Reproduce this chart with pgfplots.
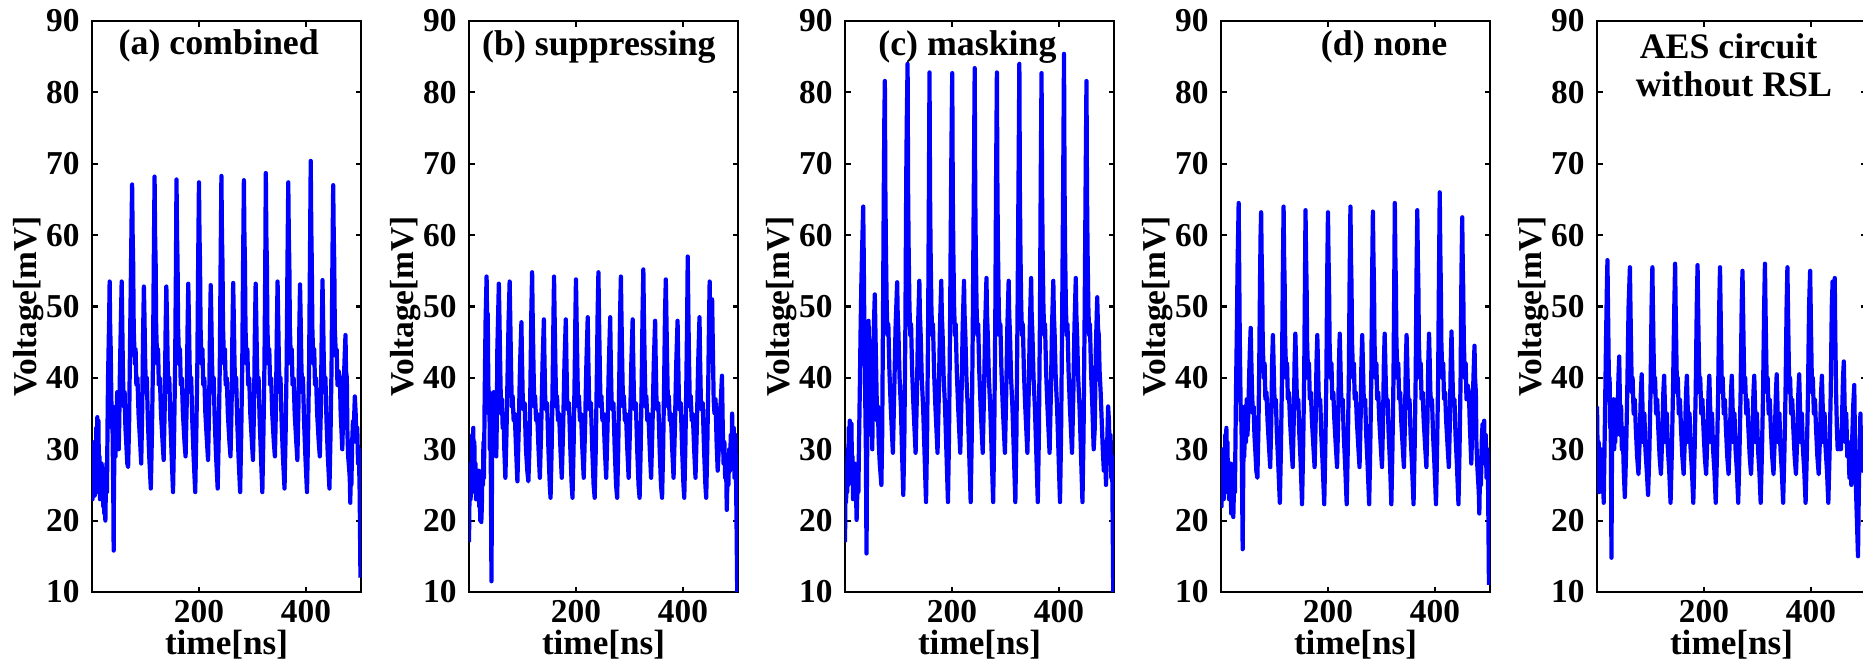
\documentclass[border=0pt]{standalone}
\usepackage{fontspec}
\setmainfont{Liberation Serif}
\usepackage{pgfplots}
\pgfplotsset{compat=1.18}

\pgfplotsset{
  panel/.style={
    scale only axis, width=26.9mm, height=57.1mm,
    xmin=0, xmax=503, ymin=10, ymax=90,
    xtick={200,400}, ytick={10,20,...,90},
    major tick length=0.55mm,
    tick style={black, line width=0.6pt},
    axis line style={black, line width=0.75pt},
    every tick label/.append style={font=\fontsize{9.5}{10}\selectfont\bfseries},
    xticklabel style={yshift=0.4mm},
    /pgf/number format/assume math mode=true,
    xlabel={time[ns]}, ylabel={Voltage[mV]},
    every axis x label/.append style={font=\fontsize{10}{10}\selectfont\bfseries, inner sep=0pt, yshift=0.5mm},
    every axis y label/.append style={font=\fontsize{9.5}{10}\selectfont\bfseries, inner sep=0pt, yshift=-1.0mm},
  },
  wave/.style={blue, line width=1.2pt, line join=round, mark=none},
}
\newcommand{\ttl}{\fontsize{10.2}{11}\selectfont\bfseries}

\begin{document}
\begin{tikzpicture}

% (a) combined
\begin{axis}[panel, at={(0mm,0mm)}]
\addplot[wave] coordinates {
(0,27) (1,23) (2,29) (3,24) (4,31) (5,23.5) (6,28) (7,25) (8,33) (9,24) (10,34.5) (11,30) (12,34) (13,26) (14,29) (15,23) (16,27) (17,24) (18,28) (19,23.5) (20,26) (21,22) (22,27) (23,21) (24,24) (25,20) (26,25) (27,28) (28,24) (29,33) (30,40) (31,44) (32,48) (33,53.5) (34,47) (35,44) (36,38) (37,33) (38,36) (39,29) (40,22) (40.5,15.8) (41,24) (42,30) (43,35) (44,29) (45,36) (46,31) (47,38) (48,32) (49,36) (50,30) (51,34) (52,40) (54,48) (55.5,53.5) (56.5,48) (58,40) (59.5,36) (61,38) (62.5,33) (64,31) (66,28) (67.5,27.5) (69.5,34) (71,44) (73,56) (74,62)
(75,67.1) (76,60) (77,56) (78,47) (80,42) (81.5,44) (83,39) (85,40) (87,35) (90,31) (92,28) (94,36) (95.5,46) (97,52.8) (98,49) (99.5,42) (101,38) (102.5,40) (104.5,34) (107,29) (110,24.5) (112,32) (114,42) (115.5,56)
(117,68.2) (118,60) (119,56) (120,47) (122,42) (123.5,44) (125,39) (127,40) (129,35) (132,31) (134,28.5) (136,36) (137.5,46) (139,52.8) (140,49) (141.5,42) (143,38) (144.5,40) (146.5,34) (149,29) (151.5,24) (153.5,32) (155.5,42) (157,56)
(158,67.8) (159,60) (160,56) (161,47) (163,42) (164.5,44) (166,39) (168,40) (170,35) (173,31) (175,29) (177,36) (178.5,46) (180,53.2) (181,49) (182.5,42) (184,38) (185.5,40) (187.5,34) (190,29) (193,24) (195,32) (197,42) (198.5,56)
(200,67.4) (201,60) (202,56) (203,47) (205,42) (206.5,44) (208,39) (210,40) (212,35) (215,31) (217,28.5) (219,36) (220.5,46) (222,53) (223,49) (224.5,42) (226,38) (227.5,40) (229.5,34) (232,29) (235,24.5) (237,32) (239,42) (240.5,56)
(242,68.3) (243,60) (244,56) (245,47) (247,42) (248.5,44) (250,39) (252,40) (254,35) (257,31) (259,29) (261,36) (262.5,46) (264,53.3) (265,49) (266.5,42) (268,38) (269.5,40) (271.5,34) (274,29) (277,24) (279,32) (281,42) (282.5,56)
(284,67.7) (285,60) (286,56) (287,47) (289,42) (290.5,44) (292,39) (294,40) (296,35) (299,31) (301,28.5) (303,36) (304.5,46) (306,53.2) (307,49) (308.5,42) (310,38) (311.5,40) (313.5,34) (316,29) (318.5,24) (320.5,32) (322.5,42) (324,56)
(325,68.7) (326,60) (327,56) (328,47) (330,42) (331.5,44) (333,39) (335,40) (337,35) (340,31) (342,29) (344,36) (345.5,46) (347,53.5) (348,49) (349.5,42) (351,38) (352.5,40) (354.5,34) (357,29) (360,24.5) (362,32) (364,42) (365.5,56)
(367,67.4) (368,60) (369,56) (370,47) (372,42) (373.5,44) (375,39) (377,40) (379,35) (382,31) (384,28.5) (386,36) (387.5,46) (389,53.1) (390,49) (391.5,42) (393,38) (394.5,40) (396.5,34) (399,29) (402,24) (404,32) (406,42) (407.5,56)
(409,70.4) (410,61) (411,56) (412,47) (414,42) (415.5,44) (417,39) (419,40) (421,35) (424,31) (426,29) (428,36) (429.5,46) (431,53.7) (432,49) (433.5,42) (435,38) (436.5,40) (438.5,34) (441,29) (444,24.5) (446,32) (448,42) (449.5,56)
(451,67) (452,60) (453,56) (454,47) (456,43) (457.5,44) (459,39) (461,41) (463.5,40) (465,35) (467,31.8) (468,30) (470,36) (472,42) (474,46) (475,41) (476.5,40) (477.5,32.6) (479,29) (480.5,27.6) (482,26) (483,22.5) (484,29) (485,25) (486.5,31) (488,34) (489.5,33) (491.5,37.4) (493,35) (494.5,31) (496,33) (497.5,28) (499,30) (500.5,24) (502,12)
};
\node[anchor=base, font=\ttl] at (axis cs:237,85.3) {(a) combined};
\end{axis}

% (b) suppressing
\begin{axis}[panel, at={(37.7mm,0mm)}]
\addplot[wave] coordinates {
(0,17) (1,24) (2,26) (3,23) (4,28) (5,24) (6,32) (7,27) (8,33) (9,25) (10,31) (11,24) (12,28) (13,23) (14,27) (15,24) (16,26) (17,23.5) (18,27) (19,22) (20,25) (21,20) (22,24) (23,19.8) (24,22) (25,27) (26,25) (27,31) (28,26) (29,35) (30,42) (31,48) (32.9,54.2) (34,47) (35,49) (36,40) (37,35) (38,38) (39,30) (40,36) (41,25) (42,11.5) (43,27) (44,36) (45,30) (46,38) (47,33) (48,37) (49,31) (50,35) (51,29) (52,34) (53,44) (55.8,53.2) (57,48) (58.5,41) (60,35) (61.5,37) (63,33) (64.5,35) (66,30) (68,26) (70,32) (72,40) (74,48)
(76,53.5) (77,49) (78.5,42) (80,36) (81.5,37.5) (83.5,34) (85.5,35) (88,30) (90.5,25.5) (93,33) (95.5,42) (98,47.8) (99,43) (100.5,37) (102,35.5) (104,36.5) (106.5,30) (109,27) (111,25.5) (113,30) (115,40) (116.5,49)
(118,54.8) (119,49) (120.5,42) (122,36) (123.5,37.5) (125.5,34) (127.5,35) (130,30) (132.5,26) (135,33) (137.5,42) (140,48.2) (141,43) (142.5,37) (144,35.5) (146,36.5) (148.5,30) (151,25) (152.5,23.2) (154.5,30) (156.5,40) (158,49)
(159,54.2) (160,49) (161.5,42) (163,36) (164.5,37.5) (166.5,34) (168.5,35) (171,30) (173.5,26) (176,33) (178.5,42) (181,48.2) (182,43) (183.5,37) (185,35.5) (187,36.5) (189.5,30) (192,25) (193.5,23.2) (195.5,30) (197.5,40) (199,49)
(200,53.8) (201,49) (202.5,42) (204,36) (205.5,37.5) (207.5,34) (209.5,35) (212,30) (214.5,26) (217,33) (219.5,42) (222,48.5) (223,43) (224.5,37) (226,35.5) (228,36.5) (230.5,30) (233,25) (235,23.2) (237,30) (239,40) (240.5,49)
(242,54.8) (243,49) (244.5,42) (246,36) (247.5,37.5) (249.5,34) (251.5,35) (254,30) (256.5,26) (259,33) (261.5,42) (264,48.5) (265,43) (266.5,37) (268,35.5) (270,36.5) (272.5,30) (275,25) (277,23.2) (279,30) (281,40) (282.5,49)
(284,54.2) (285,49) (286.5,42) (288,36) (289.5,37.5) (291.5,34) (293.5,35) (296,30) (298.5,26) (301,33) (303.5,42) (306,48.2) (307,43) (308.5,37) (310,35.5) (312,36.5) (314.5,30) (317,25) (319,23.2) (321,30) (323,40) (324.5,49)
(326,55.2) (327,49) (328.5,42) (330,36) (331.5,37.5) (333.5,34) (335.5,35) (338,30) (340.5,26) (343,33) (345.5,42) (348,48) (349,43) (350.5,37) (352,35.5) (354,36.5) (356.5,30) (359,25) (361,23.2) (363,30) (365,40) (366.5,49)
(368,53.8) (369,49) (370.5,42) (372,36) (373.5,37.5) (375.5,34) (377.5,35) (380,30) (382.5,26) (385,33) (387.5,42) (390,48) (391,43) (392.5,37) (394,35.5) (396,36.5) (398.5,30) (401,25) (402.5,23.2) (404.5,30) (406.5,40) (408,49)
(409,57) (410,50) (411.5,42) (413,36) (414.5,37.5) (416.5,34) (418.5,35) (421,30) (423.5,26) (426,33) (428.5,42) (431,48.5) (432,43) (433.5,37) (435,35.5) (437,36.5) (439.5,30) (442,25) (443.5,23.2) (445.5,30) (447.5,40) (449,49)
(450,53.5) (451.5,46) (453,44) (454.6,51) (456,44) (457.5,37) (459,35) (461,37) (463,31) (465,27) (467,30) (469,35) (471,37) (473,40.3) (474.5,33) (476,28) (477.5,31) (479,26) (480.5,29) (482,21.5) (483.5,27) (485,25) (486.5,30) (488,27) (489.5,32) (491,29) (492,35) (493.5,28) (495,33) (496.5,26) (498,32) (499.5,25) (500.5,18) (501.5,10)
};
\node[anchor=base, font=\ttl] at (axis cs:243,85.1) {(b) suppressing};
\end{axis}

% (c) masking
\begin{axis}[panel, at={(75.3mm,0mm)}]
\addplot[wave] coordinates {
(0,17) (1,25) (2,22.6) (3,28) (4,24) (5,30) (6,25) (7,33) (8,28) (9,34) (10,27) (11,31) (12,33.6) (13,27) (14,29) (15,23) (16,27) (17,24) (18,28) (19,23) (20,26) (21.7,20.1) (23,24) (24,27) (25,24) (26,30) (27,35) (28,40) (29,46) (30.5,53) (32,58) (34,64) (35,57) (36,48) (37,42) (38,36) (39,30) (40.2,15.4) (41,26) (42,34) (43,40) (44,48) (45,44) (46,38) (47,34) (48,40) (49,32) (50,36) (51,30) (52,38) (53.5,46) (55.7,51.7) (57,46) (58.5,40) (60,34) (61.5,36) (63,31) (65,28) (68,25) (69.5,32) (71,48) (72.5,66) (73.5,76)
(74.5,81.6) (75.5,66) (76.5,58) (78,50) (79.5,46) (81,47.5) (83,41) (85.5,36) (89.5,29.5) (92,38) (94.5,47) (97.5,53.4) (98.5,49) (100,46) (102,40) (104.5,36) (106.5,30) (109,23.6) (111,32) (113,48) (114.5,68) (115.5,76)
(117,84) (118,66) (119,58) (120.5,50) (122,46) (123.5,47.5) (125.5,41) (128,36) (132,29.5) (134.5,38) (136.5,47) (139,53.6) (140,49) (141.5,46) (143.5,40) (146,36) (148.5,30) (151.5,22.6) (153.5,32) (155.5,48) (157,68)
(158,82.8) (159,66) (160,58) (161.5,50) (163,46) (164.5,47.5) (166.5,41) (169,36) (173,29.5) (175.5,38) (177.5,47) (180,53.6) (181,49) (182.5,46) (184.5,40) (187,36) (189.5,30) (192.5,22.6) (194.5,32) (196.5,48) (198.5,68) (199.5,76)
(200.5,82.7) (201.5,66) (202.5,58) (204,50) (205.5,46) (207,47.5) (209,41) (211.5,36) (215.5,29.5) (218,38) (220,47) (222.5,53.6) (223.5,49) (225,46) (227,40) (229.5,36) (232,30) (235,22.6) (237,32) (239,48) (241,68)
(242.5,83.4) (243.5,66) (244.5,58) (246,50) (247.5,46) (249,47.5) (251,41) (253.5,36) (257.5,29.5) (260,38) (262,47) (264.5,54) (265.5,49) (267,46) (269,40) (271.5,36) (274,30) (277,22.6) (279,32) (281,48) (282.5,68)
(284,82.8) (285,66) (286,58) (287.5,50) (289,46) (290.5,47.5) (292.5,41) (295,36) (299,29.5) (301.5,38) (303.5,47) (306,53.6) (307,49) (308.5,46) (310.5,40) (313,36) (315.5,30) (318.5,22.6) (320.5,32) (322.5,48) (324.5,68)
(326,84) (327,66) (328,58) (329.5,50) (331,46) (332.5,47.5) (334.5,41) (337,36) (341,29.5) (343.5,38) (345.5,47) (348,54) (349,49) (350.5,46) (352.5,40) (355,36) (357.5,30) (360.5,22.6) (362.5,32) (364.5,48) (366,68)
(367.5,82.7) (368.5,66) (369.5,58) (371,50) (372.5,46) (374,47.5) (376,41) (378.5,36) (382.5,29.5) (385,38) (387,47) (389.5,53.6) (390.5,49) (392,46) (394,40) (396.5,36) (399,30) (402,22.6) (404,32) (406,48) (408,68)
(409.5,85.4) (410.5,67) (411.5,58) (413,50) (414.5,46) (416,47.5) (418,41) (420.5,36) (424.5,29.5) (427,38) (429,47) (431.5,54) (432.5,49) (434,46) (436,40) (438.5,36) (441,30) (444,22.6) (446,32) (448,48) (450,68)
(451.5,81.6) (452.5,66) (453.5,58) (455,50) (456.5,46) (458,47.5) (460,41) (462.5,36) (465,30) (467,33) (469,44) (471.6,51.3) (473,47) (474.5,46) (476,41) (478,38) (480,34) (482,30) (484,27) (486,31) (488,25) (490,30) (492,36) (493.5,34) (495,29) (496.5,32) (498,26) (499.5,29) (500.5,20) (501.5,10)
};
\node[anchor=base, font=\ttl] at (axis cs:229,85.2) {(c) masking};
\end{axis}

% (d) none
\begin{axis}[panel, at={(112.9mm,0mm)}]
\addplot[wave] coordinates {
(0,26) (1,22) (2,28) (3,24) (4,30) (5,23) (6,27) (7,25) (8,32) (9,24) (10,33) (11,28) (12,31) (13,25) (14,28) (15,23) (16,27) (17,24) (18,28) (19,21) (20,25) (21,22) (22,26) (23,20.5) (24,24) (25,28) (26,24) (27,31) (28,38) (29.5,46) (31,56) (33,64.5) (34,55) (35,46) (36,40) (37,34) (38,36) (39,28) (40.5,16) (41.5,26) (42.5,33) (43.5,29) (45,36) (46.5,31) (48,37) (49.5,32) (51,35) (52.5,40) (54,44) (55.5,47) (56.5,43) (58,38) (59.5,35) (61,36) (62.5,32) (64,30) (66,27) (68,26) (70,33) (71.5,42) (73,54) (74,60)
(75,63.2) (76,57) (77,53) (78,45) (80,40) (81.5,42) (83,37) (85,38) (87,34) (90,30) (92,27.5) (94,34) (95.5,42) (97,46) (98,43) (99.5,38) (101,36) (102.5,37) (104.5,32) (107,28) (110,22.5) (112,30) (114,40) (115.5,54)
(117,64) (118,57) (119,53) (120,45) (122,40) (123.5,42) (125,37) (127,38) (129,34) (132,30) (134,27.5) (136,34) (137.5,42) (139,46.2) (140,43) (141.5,38) (143,36) (144.5,37) (146.5,32) (149,28) (151.5,22.3) (153.5,30) (155.5,40) (157,54)
(158,63.5) (159,57) (160,53) (161,45) (163,40) (164.5,42) (166,37) (168,38) (170,34) (173,30) (175,27.5) (177,34) (178.5,42) (180,46) (181,43) (182.5,38) (184,36) (185.5,37) (187.5,32) (190,28) (193,22.3) (195,30) (197,40) (198.5,54)
(200,63.2) (201,57) (202,53) (203,45) (205,40) (206.5,42) (208,37) (210,38) (212,34) (215,30) (217,27.5) (219,34) (220.5,42) (222,46.2) (223,43) (224.5,38) (226,36) (227.5,37) (229.5,32) (232,28) (235,22.3) (237,30) (239,40) (240.5,54)
(242,64) (243,57) (244,53) (245,45) (247,40) (248.5,42) (250,37) (252,38) (254,34) (257,30) (259,27.5) (261,34) (262.5,42) (264,46) (265,43) (266.5,38) (268,36) (269.5,37) (271.5,32) (274,28) (277,22.3) (279,30) (281,40) (282.5,54)
(284,63.3) (285,57) (286,53) (287,45) (289,40) (290.5,42) (292,37) (294,38) (296,34) (299,30) (301,27.5) (303,34) (304.5,42) (306,46.2) (307,43) (308.5,38) (310,36) (311.5,37) (313.5,32) (316,28) (318.5,22.3) (320.5,30) (322.5,40) (324,54)
(325,64.5) (326,57) (327,53) (328,45) (330,40) (331.5,42) (333,37) (335,38) (337,34) (340,30) (342,27.5) (344,34) (345.5,42) (347,46) (348,43) (349.5,38) (351,36) (352.5,37) (354.5,32) (357,28) (360,22.3) (362,30) (364,40) (365.5,54)
(367,63.5) (368,57) (369,53) (370,45) (372,40) (373.5,42) (375,37) (377,38) (379,34) (382,30) (384,27.5) (386,34) (387.5,42) (389,46.2) (390,43) (391.5,38) (393,36) (394.5,37) (396.5,32) (399,28) (402,22.3) (404,30) (406,40) (407.5,54)
(409,66) (410,58) (411,53) (412,45) (414,40) (415.5,42) (417,37) (419,38) (421,34) (424,30) (426,27.5) (428,34) (429.5,42) (431,46.5) (432,43) (433.5,38) (435,36) (436.5,37) (438.5,32) (441,28) (444,22.3) (446,30) (448,40) (449.5,54)
(451,62.5) (452,56) (453,52) (454,45) (456,40) (457.5,42) (459,37) (461,39) (463.5,38) (465,34) (467,30) (468,28) (470,34) (472,40) (474,44.5) (475,40) (476.5,38) (477.5,31) (479,28) (480.5,26) (482,24) (483,21) (484.5,28) (486,25) (487.5,31) (489,33.5) (490.5,30) (492,34) (493.5,28) (495,32) (496.5,26) (498,30) (499.5,24) (501,11)
};
\node[anchor=base, font=\ttl] at (axis cs:305,85.2) {(d) none};
\end{axis}

% AES circuit without RSL
\begin{axis}[panel, at={(150.5mm,0mm)}]
\addplot[wave] coordinates {
(0,36) (1,30) (2,26) (3,31) (4,24) (5,29) (6,25) (7,30) (8,26) (9,28) (10,24) (11,27) (12.5,22.5) (14,30) (15.5,38) (17,46) (18.5,53)
(19.5,56.5) (20.5,50) (21.5,44) (22.5,37) (23.5,40) (24.5,33) (25.5,36) (27,14.8) (28,30) (29,36) (30,33) (31,37) (32,30) (33,35) (34,31) (35,36) (36,32) (37,37) (38.5,34) (40,40) (41.5,43) (42.5,38) (43.5,32) (45,36) (46.5,30) (48,33) (50,27) (52,23.3) (54.5,30) (56.5,38) (59,50)
(61.5,55.5) (62.5,50) (63.5,45) (65,38) (66.5,40) (68.5,35) (70.5,37) (72.5,33) (75,29) (77.5,26.5) (80,32) (82,38) (83.5,40.5) (85,36) (86.5,31) (88.5,35) (90.5,30) (93,27) (95.5,23.6) (98,30) (100,38) (102,50)
(103.5,55.5) (104.5,50) (105.5,45) (107,38) (108.5,40) (110.5,35) (112.5,37) (114.5,33) (117,29) (119.5,26.5) (122,32) (124,38) (125.5,40.3) (127,36) (128.5,31) (130.5,35) (132.5,30) (135,27) (137.5,22.5) (140,30) (142,38) (144.5,50)
(146,56) (147,50) (148,45) (149.5,38) (151,40) (153,35) (155,37) (157,33) (159.5,29) (162,26.5) (164.5,32) (166.5,38) (168,40.3) (169.5,36) (171,31) (173,35) (175,30) (177.5,27) (180,22.5) (182.5,30) (184.5,38) (186.5,50)
(188,55.8) (189,50) (190,45) (191.5,38) (193,40) (195,35) (197,37) (199,33) (201.5,29) (204,26.5) (206.5,32) (208.5,38) (210,40.3) (211.5,36) (213,31) (215,35) (217,30) (219.5,27) (222,22.5) (224.5,30) (226.5,38) (228.5,50)
(230,55.5) (231,50) (232,45) (233.5,38) (235,40) (237,35) (239,37) (241,33) (243.5,29) (246,26.5) (248.5,32) (250.5,38) (252,40.3) (253.5,36) (255,31) (257,35) (259,30) (261.5,27) (264,22.5) (266.5,30) (268.5,38) (270.5,50)
(272,55) (273,50) (274,45) (275.5,38) (277,40) (279,35) (281,37) (283,33) (285.5,29) (288,26.5) (290.5,32) (292.5,38) (294,40.3) (295.5,36) (297,31) (299,35) (301,30) (303.5,27) (306,22.5) (308.5,30) (310.5,38) (312.5,50)
(314,56) (315,50) (316,45) (317.5,38) (319,40) (321,35) (323,37) (325,33) (327.5,29) (330,26.5) (332.5,32) (334.5,38) (336,40.5) (337.5,36) (339,31) (341,35) (343,30) (345.5,27) (348,22.5) (350.5,30) (352.5,38) (354.5,50)
(356,55.5) (357,50) (358,45) (359.5,38) (361,40) (363,35) (365,37) (367,33) (369.5,29) (372,26.5) (374.5,32) (376.5,38) (378,40.5) (379.5,36) (381,31) (383,35) (385,30) (387.5,27) (390,22.5) (392.5,30) (394.5,38) (396.5,50)
(398.5,55) (399.5,50) (400.5,45) (402,38) (403.5,40) (405.5,35) (407.5,37) (409.5,33) (412,29) (414.5,26.5) (417,32) (419,38) (420.5,40.3) (422,36) (423.5,31) (425.5,35) (427.5,30) (430,27) (432.5,22.5) (435,30) (437,38) (439,50)
(440.5,53.5) (441.5,48) (443,50) (444.5,54) (445.5,46) (447,38) (448.5,33) (450,30) (451.5,32) (453,30) (454.5,32) (456,30) (458,34) (460,40) (461.5,42.3) (463,36) (464.5,31) (466,35) (468,29) (470,31) (472,26) (474,28) (475.5,25) (477,31) (479,36) (481,39) (482.5,30) (484,25) (486,20) (488,15) (489.5,24) (491,30) (492.5,35) (494,29) (495.5,32) (497,27) (498.5,30) (500,28) (502,30)
};
\node[anchor=base, font=\ttl] at (axis cs:246,84.7) {AES circuit};
\node[anchor=base, font=\ttl] at (axis cs:256,79.4) {without RSL};
\end{axis}

\pgfresetboundingbox
\path[use as bounding box] (-9.2mm,-6.6mm) rectangle (177.1mm,59.2mm);
\end{tikzpicture}
\end{document}
